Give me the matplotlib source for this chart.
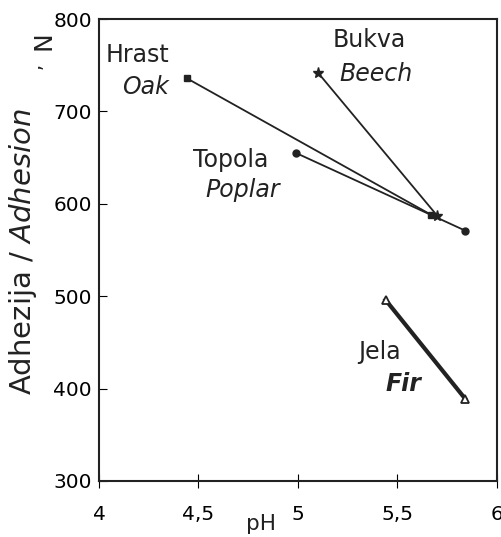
import matplotlib.pyplot as plt

plt.rcParams['font.family'] = ['DejaVu Sans']

# pH i adhezija (N) za svaku vrstu drva
oak_ph = [4.44, 5.67]
oak_adh = [736, 588]
beech_ph = [5.10, 5.70]
beech_adh = [742, 587]
poplar_ph = [4.99, 5.84]
poplar_adh = [655, 571]
fir_ph = [5.44, 5.84]
fir_adh = [496, 389]

xticks = [4, 4.5, 5, 5.5, 6]
xticklabels = ['4', '4,5', '5', '5,5', '6']
yticks = [300, 400, 500, 600, 700, 800]

fig = plt.figure(figsize=(5.01, 5.37), dpi=100)
ax = fig.add_axes([0.1976, 0.1043, 0.7944, 0.8603])

c = '#222222'
ax.plot(oak_ph, oak_adh, color=c, lw=1.3, marker='s', ms=5)
ax.plot(beech_ph, beech_adh, color=c, lw=1.3, marker='*', ms=8)
ax.plot(poplar_ph, poplar_adh, color=c, lw=1.3, marker='o', ms=5)
ax.plot(fir_ph, fir_adh, color=c, lw=3, marker='^', ms=6, mfc='white', mew=1.3)

ax.set_xlim(4, 6)
ax.set_ylim(300, 800)
ax.set_xticks(xticks)
ax.set_xticklabels(xticklabels)
ax.set_yticks(yticks)
ax.tick_params(axis='y', direction='in', length=6, labelsize=14.5, pad=5)
ax.tick_params(axis='x', direction='inout', length=10, labelsize=14.5, pad=12)
for s in ax.spines.values():
    s.set_linewidth(1.5)
    s.set_color(c)

kw = dict(fontsize=17, color=c, va='baseline')
ax.text(4.035, 754, 'Hrast', **kw)
ax.text(4.115, 719, 'Oak', style='italic', **kw)
ax.text(5.176, 770, 'Bukva', **kw)
ax.text(5.21, 733, 'Beech', style='italic', **kw)
ax.text(4.472, 640, 'Topola', **kw)
ax.text(4.533, 607, 'Poplar', style='italic', **kw)
ax.text(5.30, 432, 'Jela', **kw)
ax.text(5.44, 397, 'Fir', style='italic', weight='bold', **kw)

fig.text(0.046, 0.532, 'Adhezija / $\\it{Adhesion}$', rotation=90, ha='center',
         va='center', fontsize=21, color=c)
fig.text(0.086, 0.925, 'N', rotation=90, ha='center', va='center', fontsize=18, color=c)
fig.text(0.07, 0.878, ',', rotation=90, ha='center', va='center', fontsize=14, color=c)
fig.text(0.52, 0.025, 'pH', ha='center', va='center', fontsize=15.5, color=c)

fig.savefig('out.png', dpi=100)
